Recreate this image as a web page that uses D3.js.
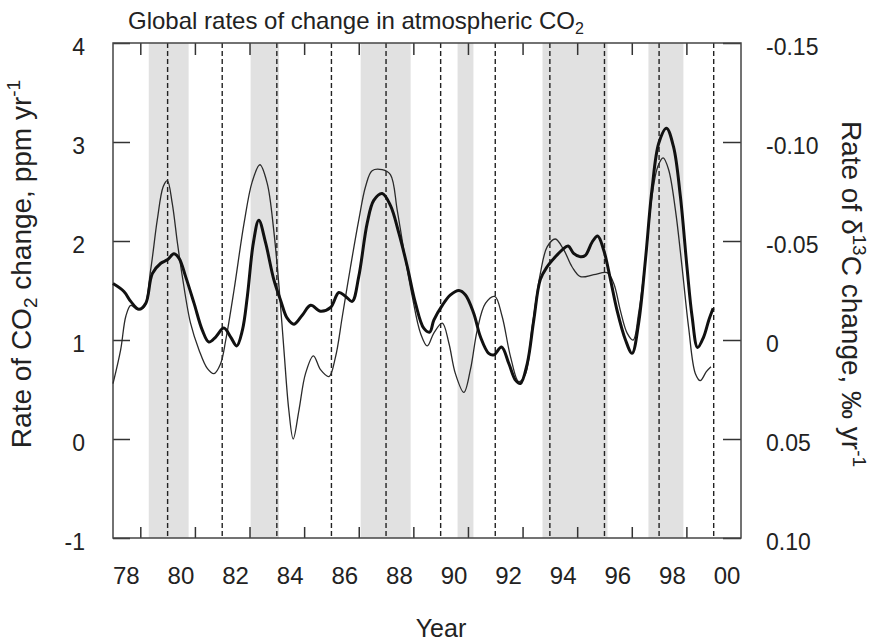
<!DOCTYPE html>
<html>
<head>
<meta charset="utf-8">
<script src="https://cdn.jsdelivr.net/npm/d3@7"></script>
<style>
  body { margin: 0; background: #fff; }
  text { font-family: "Liberation Sans", Arial, Helvetica, sans-serif; fill: #222; }
</style>
</head>
<body>
<div id="chart"></div>
<script>
// rate of CO2 change (ppm/yr), thick line, left axis
var co2Years = [1978.0, 1978.4, 1978.65, 1978.95, 1979.2, 1979.44, 1979.75, 1979.99, 1980.23, 1980.42,
  1980.66, 1980.97, 1981.27, 1981.51, 1981.76, 1982.06, 1982.31, 1982.53, 1982.74, 1982.92,
  1983.14, 1983.34, 1983.59, 1983.89, 1984.14, 1984.38, 1984.63, 1984.93, 1985.24, 1985.6,
  1985.97, 1986.27, 1986.52, 1986.76, 1987.0, 1987.31, 1987.55, 1987.86, 1988.16, 1988.47,
  1988.78, 1989.08, 1989.38, 1989.6, 1989.75, 1990.06, 1990.36, 1990.67, 1990.91, 1991.21,
  1991.46, 1991.76, 1991.95, 1992.23, 1992.5, 1992.74, 1992.92, 1993.17, 1993.41, 1993.65,
  1993.9, 1994.2, 1994.45, 1994.67, 1994.87, 1995.12, 1995.3, 1995.55, 1995.75, 1995.97,
  1996.22, 1996.46, 1996.77, 1997.01, 1997.25, 1997.5, 1997.74, 1997.99, 1998.27, 1998.53,
  1998.78, 1999.02, 1999.21, 1999.41, 1999.63, 1999.82, 1999.98];
var co2Rate = [1.57, 1.49, 1.39, 1.31, 1.37, 1.67, 1.775, 1.81, 1.87, 1.825,
  1.64, 1.37, 1.10, 0.98, 1.03, 1.12, 1.03, 0.94, 1.10, 1.44,
  1.98, 2.21, 1.98, 1.61, 1.40, 1.22, 1.16, 1.25, 1.35, 1.29,
  1.33, 1.48, 1.44, 1.39, 1.64, 2.18, 2.41, 2.48, 2.36, 2.08,
  1.74, 1.37, 1.12, 1.08, 1.20, 1.35, 1.455, 1.50, 1.455, 1.27,
  1.03, 0.865, 0.85, 0.93, 0.76, 0.595, 0.56, 0.76, 1.20, 1.61,
  1.74, 1.84, 1.91, 1.95, 1.875, 1.84, 1.855, 1.99, 2.05, 1.91,
  1.61, 1.30, 1.00, 0.865, 1.17, 1.81, 2.52, 2.99, 3.14, 2.95,
  2.45, 1.74, 1.235, 0.925, 1.03, 1.20, 1.32];

// rate of d13C change (permil/yr), thin line, right axis
var d13cYears = [1978.0, 1978.28, 1978.47, 1978.65, 1978.89, 1979.13, 1979.38, 1979.62, 1979.84, 1979.99,
  1980.17, 1980.36, 1980.54, 1980.84, 1981.15, 1981.46, 1981.7, 1981.94, 1982.13, 1982.43,
  1982.8, 1983.1, 1983.38, 1983.65, 1983.89, 1984.08, 1984.26, 1984.44, 1984.6, 1984.81,
  1985.05, 1985.34, 1985.6, 1985.91, 1986.15, 1986.4, 1986.7, 1987.0, 1987.25, 1987.49,
  1987.86, 1988.16, 1988.41, 1988.65, 1988.96, 1989.26, 1989.51, 1989.75, 1990.06, 1990.3,
  1990.54, 1990.85, 1991.09, 1991.34, 1991.64, 1991.98, 1992.25, 1992.56, 1992.86, 1993.11,
  1993.35, 1993.65, 1993.9, 1994.2, 1994.51, 1994.81, 1995.12, 1995.61, 1996.1, 1996.34,
  1996.58, 1996.83, 1997.05, 1997.25, 1997.5, 1997.74, 1997.95, 1998.15, 1998.35, 1998.6,
  1998.84, 1999.08, 1999.33, 1999.51, 1999.73, 1999.9];
var d13cRate = [0.022, 0.005, -0.012, -0.0175, -0.0155, -0.0165, -0.0355, -0.0605, -0.0775, -0.0805,
  -0.069, -0.049, -0.032, -0.0085, 0.005, 0.0145, 0.017, 0.012, 0.0, -0.025,
  -0.059, -0.080, -0.0885, -0.079, -0.055, -0.027, 0.005, 0.0355, 0.050, 0.0355,
  0.017, 0.008, 0.015, 0.0185, 0.0085, -0.012, -0.037, -0.0605, -0.0775, -0.0855,
  -0.086, -0.0835, -0.0655, -0.0455, -0.022, -0.0035, 0.003, -0.0035, -0.0085, 0.0015,
  0.017, 0.0265, 0.015, -0.005, -0.0185, -0.022, -0.012, 0.0085, 0.021, 0.017,
  -0.0065, -0.0335, -0.047, -0.051, -0.0455, -0.037, -0.032, -0.033, -0.034, -0.0285,
  -0.015, -0.0035, 0.0, -0.0135, -0.0405, -0.0725, -0.0875, -0.092, -0.086, -0.0655,
  -0.037, -0.0065, 0.017, 0.0205, 0.016, 0.0135];

// shaded periods
var bandStart = [1979.31, 1983.04, 1987.07, 1990.62, 1993.73, 1997.61];
var bandEnd   = [1980.77, 1984.08, 1988.90, 1991.20, 1996.11, 1998.89];

// dashed vertical markers
var markerYears = [1980, 1982, 1984, 1986, 1988, 1990, 1992, 1994, 1996, 1998, 2000];

var xTickYears = [1979, 1981, 1983, 1985, 1987, 1989, 1991, 1993, 1995, 1997, 1999];
var xLabelYears = [1978, 1980, 1982, 1984, 1986, 1988, 1990, 1992, 1994, 1996, 1998, 2000];
var xLabels = ["78", "80", "82", "84", "86", "88", "90", "92", "94", "96", "98", "00"];
var leftTicks = [4, 3, 2, 1, 0, -1];
var leftLabels = ["4", "3", "2", "1", "0", "-1"];
var rightTicks = [-0.15, -0.10, -0.05, 0, 0.05, 0.10];
var rightLabels = ["-0.15", "-0.10", "-0.05", "0", "0.05", "0.10"];

var width = 875, height = 641;
var plot = {left: 113, right: 741, top: 43, bottom: 538};

var svg = d3.select("#chart").append("svg")
  .attr("width", width)
  .attr("height", height);

var x = d3.scaleLinear().domain([1978, 2001]).range([plot.left, plot.right]);
var y = d3.scaleLinear().domain([-1, 4]).range([plot.bottom, plot.top]);
var yR = d3.scaleLinear().domain([0.10, -0.15]).range([plot.bottom, plot.top]);

// grey bands
svg.selectAll("rect.band")
  .data(d3.zip(bandStart, bandEnd))
  .join("rect")
  .attr("class", "band")
  .attr("x", function(d) { return x(d[0]); })
  .attr("width", function(d) { return x(d[1]) - x(d[0]); })
  .attr("y", plot.top)
  .attr("height", plot.bottom - plot.top)
  .attr("fill", "#e1e1e1");

// dashed markers
svg.selectAll("line.marker")
  .data(markerYears)
  .join("line")
  .attr("class", "marker")
  .attr("x1", function(d) { return x(d); })
  .attr("x2", function(d) { return x(d); })
  .attr("y1", plot.top)
  .attr("y2", plot.bottom)
  .attr("stroke", "#222")
  .attr("stroke-width", 1.4)
  .attr("stroke-dasharray", "5,3");

// axes with inward ticks
function styleAxis(g) {
  g.select(".domain").remove();
  g.selectAll(".tick line").attr("stroke", "#333").attr("stroke-width", 1.5);
}

svg.append("g")
  .attr("transform", "translate(0," + plot.bottom + ")")
  .call(d3.axisBottom(x).tickValues(xTickYears).tickSize(-11).tickFormat(""))
  .call(styleAxis);

svg.append("g")
  .attr("transform", "translate(0," + plot.top + ")")
  .call(d3.axisTop(x).tickValues(xTickYears).tickSize(-12).tickFormat(""))
  .call(styleAxis);

var leftAxis = svg.append("g")
  .attr("transform", "translate(" + plot.left + ",0)")
  .call(d3.axisLeft(y).tickValues(leftTicks).tickSize(-17).tickPadding(28)
    .tickFormat(function(d, i) { return leftLabels[i]; }))
  .call(styleAxis);

var rightAxis = svg.append("g")
  .attr("transform", "translate(" + plot.right + ",0)")
  .call(d3.axisRight(yR).tickValues(rightTicks).tickSize(-18).tickPadding(25)
    .tickFormat(function(d, i) { return rightLabels[i]; }))
  .call(styleAxis);

[leftAxis, rightAxis].forEach(function(g) {
  g.selectAll(".tick text")
    .attr("font-size", 23)
    .attr("font-family", null)
    .attr("fill", "#222")
    .attr("dy", 11);
});
leftAxis.selectAll(".tick text").attr("x", 85 - plot.left);

// year labels, left-aligned on the even years
svg.selectAll("text.xlab")
  .data(xLabelYears)
  .join("text")
  .attr("class", "xlab")
  .attr("x", function(d) { return x(d); })
  .attr("y", 584)
  .attr("font-size", 24)
  .text(function(d, i) { return xLabels[i]; });

// frame
svg.append("rect")
  .attr("x", plot.left)
  .attr("y", plot.top)
  .attr("width", plot.right - plot.left)
  .attr("height", plot.bottom - plot.top)
  .attr("fill", "none")
  .attr("stroke", "#444")
  .attr("stroke-width", 1.5);

// curves
var thinLine = d3.line()
  .x(function(d) { return x(d[0]); })
  .y(function(d) { return yR(d[1]); })
  .curve(d3.curveCatmullRom.alpha(0.5));

var thickLine = d3.line()
  .x(function(d) { return x(d[0]); })
  .y(function(d) { return y(d[1]); })
  .curve(d3.curveCatmullRom.alpha(0.5));

svg.append("path")
  .datum(d3.zip(d13cYears, d13cRate))
  .attr("d", thinLine)
  .attr("fill", "none")
  .attr("stroke", "#2a2a2a")
  .attr("stroke-width", 1.3);

svg.append("path")
  .datum(d3.zip(co2Years, co2Rate))
  .attr("d", thickLine)
  .attr("fill", "none")
  .attr("stroke", "#111")
  .attr("stroke-width", 3);

// title
var title = svg.append("text")
  .attr("x", 128)
  .attr("y", 29)
  .attr("font-size", 24);
title.append("tspan").text("Global rates of change in atmospheric CO");
title.append("tspan").attr("font-size", 16).attr("dy", 5).text("2");

// x axis title
svg.append("text")
  .attr("x", 441)
  .attr("y", 637)
  .attr("text-anchor", "middle")
  .attr("font-size", 25)
  .text("Year");

// left axis title
var lt = svg.append("text")
  .attr("transform", "translate(31,264) rotate(-90)")
  .attr("text-anchor", "middle")
  .attr("font-size", 28);
lt.append("tspan").text("Rate of CO");
lt.append("tspan").attr("font-size", 19).attr("dy", 6).text("2");
lt.append("tspan").attr("dy", -6).text(" change, ppm yr");
lt.append("tspan").attr("font-size", 19).attr("dy", -11).text("-1");

// right axis title
var rt = svg.append("text")
  .attr("transform", "translate(842,294) rotate(90)")
  .attr("text-anchor", "middle")
  .attr("font-size", 28);
rt.append("tspan").text("Rate of δ");
rt.append("tspan").attr("font-size", 19).attr("dy", -11).text("13");
rt.append("tspan").attr("dy", 11).text("C change, ‰ yr");
rt.append("tspan").attr("font-size", 19).attr("dy", -11).text("-1");
</script>
</body>
</html>
